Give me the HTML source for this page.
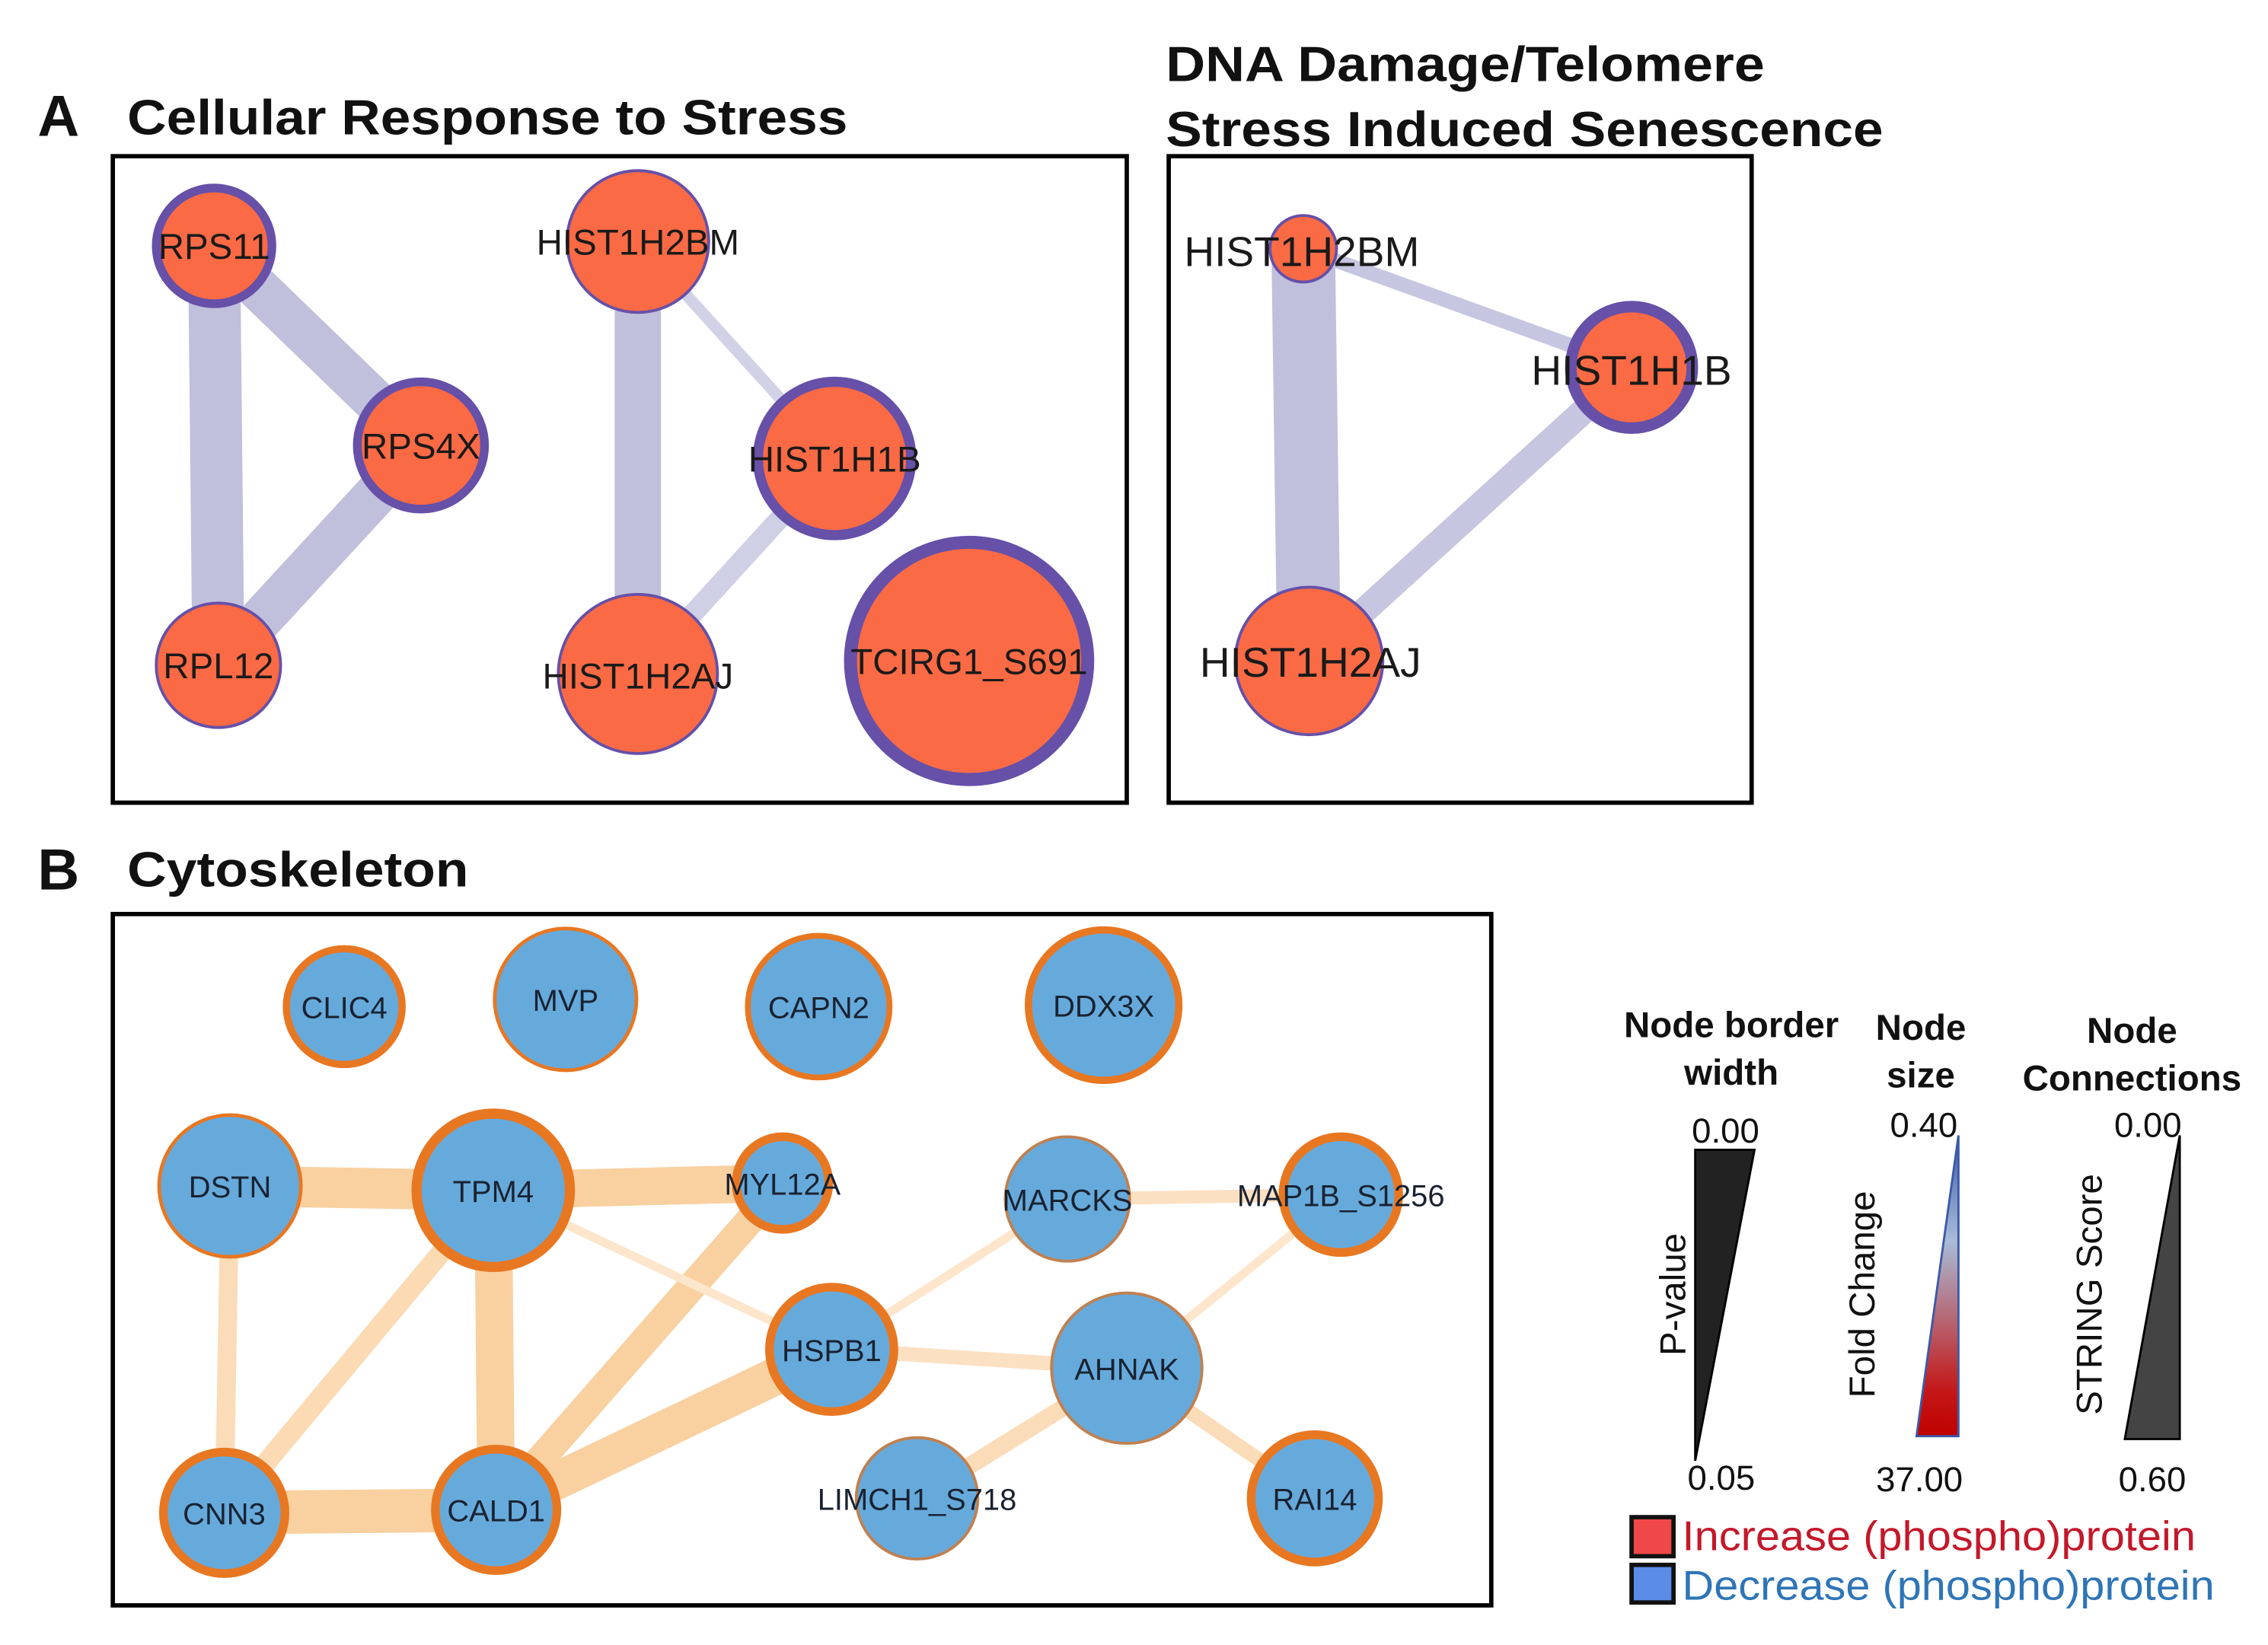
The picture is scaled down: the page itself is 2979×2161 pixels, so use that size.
<!DOCTYPE html>
<html><head><meta charset="utf-8"><style>html,body{margin:0;padding:0;background:#fff}svg{display:block}</style></head><body>
<svg width="2979" height="2161" viewBox="0 0 1568 1137.4" preserveAspectRatio="none" xmlns="http://www.w3.org/2000/svg" font-family="Liberation Sans, sans-serif">
<rect width="1568" height="1138" fill="#fff"/>
<g font-weight="bold" fill="#111">
<text x="26" y="94" font-size="40">A</text>
<text x="88" y="93" font-size="34" textLength="498" lengthAdjust="spacingAndGlyphs">Cellular Response to Stress</text>
<text x="806" y="56" font-size="34" textLength="414" lengthAdjust="spacingAndGlyphs">DNA Damage/Telomere</text>
<text x="806" y="101" font-size="34" textLength="496" lengthAdjust="spacingAndGlyphs">Stress Induced Senescence</text>
<text x="26" y="615" font-size="40">B</text>
<text x="88" y="613" font-size="34" textLength="236" lengthAdjust="spacingAndGlyphs">Cytoskeleton</text>
</g>
<rect x="78" y="108" width="701" height="447" fill="none" stroke="#000" stroke-width="3"/>
<g stroke="#c0c0dc" stroke-linecap="butt">
<line x1="148" y1="170" x2="151" y2="460" stroke-width="36"/>
<line x1="148" y1="170" x2="291" y2="308" stroke-width="30"/>
<line x1="291" y1="308" x2="151" y2="460" stroke-width="30"/>
<line x1="441" y1="167" x2="441" y2="466" stroke-width="32"/>
<line x1="441" y1="167" x2="577" y2="317" stroke-width="8" stroke="#d2d2e6"/>
<line x1="577" y1="317" x2="441" y2="466" stroke-width="14" stroke="#cfcfe6"/>
</g>
<g fill="#fa6a45" stroke="#6650a8">
<circle cx="148" cy="170" r="40" stroke-width="6"/>
<circle cx="291" cy="308" r="44" stroke-width="6"/>
<circle cx="151" cy="460" r="43" stroke-width="2"/>
<circle cx="441" cy="167" r="49" stroke-width="2"/>
<circle cx="577" cy="317" r="53" stroke-width="7"/>
<circle cx="441" cy="466" r="55" stroke-width="2"/>
<circle cx="670" cy="457" r="82" stroke-width="9"/>
</g>
<g font-size="25" fill="#1a1a1a" text-anchor="middle">
<text x="148" y="179">RPS11</text>
<text x="291" y="317">RPS4X</text>
<text x="151" y="469">RPL12</text>
<text x="441" y="176">HIST1H2BM</text>
<text x="577" y="326">HIST1H1B</text>
<text x="441" y="476">HIST1H2AJ</text>
<text x="670" y="466">TCIRG1_S691</text>
</g>
<rect x="808" y="108" width="403" height="447" fill="none" stroke="#000" stroke-width="3"/>
<g stroke="#c6c6e0">
<line x1="901" y1="172" x2="905" y2="457" stroke-width="44" stroke="#c0c0dc"/>
<line x1="901" y1="172" x2="1128" y2="254" stroke-width="10"/>
<line x1="1128" y1="254" x2="905" y2="457" stroke-width="18"/>
</g>
<g fill="#fa6a45" stroke="#6650a8">
<circle cx="901" cy="172" r="23" stroke-width="2"/>
<circle cx="1128" cy="254" r="42" stroke-width="8"/>
<circle cx="905" cy="457" r="51" stroke-width="2"/>
</g>
<g font-size="29" fill="#1a1a1a" text-anchor="middle">
<text x="900" y="184">HIST1H2BM</text>
<text x="1128" y="266">HIST1H1B</text>
<text x="906" y="468">HIST1H2AJ</text>
</g>
<rect x="78" y="632" width="953" height="478" fill="none" stroke="#000" stroke-width="3"/>
<g stroke="#f9d0a0">
<line x1="159" y1="820" x2="341" y2="823" stroke-width="28"/>
<line x1="341" y1="823" x2="541" y2="818" stroke-width="26"/>
<line x1="159" y1="820" x2="155" y2="1046" stroke-width="13" stroke="#fbdcb8"/>
<line x1="155" y1="1046" x2="341" y2="823" stroke-width="14" stroke="#fbdab4"/>
<line x1="341" y1="823" x2="343" y2="1044" stroke-width="26"/>
<line x1="155" y1="1046" x2="343" y2="1044" stroke-width="30"/>
<line x1="343" y1="1044" x2="541" y2="818" stroke-width="20"/>
<line x1="343" y1="1044" x2="575" y2="933" stroke-width="26"/>
<line x1="341" y1="823" x2="575" y2="933" stroke-width="6" stroke="#fde6cc"/>
<line x1="575" y1="933" x2="738" y2="829" stroke-width="6" stroke="#fde6cc"/>
<line x1="575" y1="933" x2="779" y2="946" stroke-width="10" stroke="#fbe0c2"/>
<line x1="738" y1="829" x2="927" y2="826" stroke-width="9" stroke="#fbe0c2"/>
<line x1="927" y1="826" x2="779" y2="946" stroke-width="6" stroke="#fde6cc"/>
<line x1="779" y1="946" x2="634" y2="1036" stroke-width="12" stroke="#fbdcb8"/>
<line x1="779" y1="946" x2="909" y2="1036" stroke-width="10" stroke="#fbdcb8"/>
</g>
<g fill="#66aadc" stroke="#e87722">
<circle cx="238" cy="696" r="40" stroke-width="5"/>
<circle cx="391" cy="691" r="49" stroke-width="2.5"/>
<circle cx="566" cy="696" r="49" stroke-width="4"/>
<circle cx="763" cy="695" r="52" stroke-width="5"/>
<circle cx="159" cy="820" r="49" stroke-width="2.5"/>
<circle cx="341" cy="823" r="53" stroke-width="7"/>
<circle cx="541" cy="818" r="32" stroke-width="6"/>
<circle cx="738" cy="829" r="43" stroke-width="2" stroke="#c08050"/>
<circle cx="927" cy="826" r="40" stroke-width="6"/>
<circle cx="575" cy="933" r="43" stroke-width="6"/>
<circle cx="779" cy="946" r="52" stroke-width="2" stroke="#c08050"/>
<circle cx="155" cy="1046" r="42" stroke-width="6"/>
<circle cx="343" cy="1044" r="42" stroke-width="6"/>
<circle cx="634" cy="1036" r="42" stroke-width="2" stroke="#c08050"/>
<circle cx="909" cy="1036" r="44" stroke-width="6"/>
</g>
<g font-size="21" fill="#1a2230" text-anchor="middle">
<text x="238" y="704">CLIC4</text>
<text x="391" y="699">MVP</text>
<text x="566" y="704">CAPN2</text>
<text x="763" y="703">DDX3X</text>
<text x="159" y="828">DSTN</text>
<text x="341" y="831">TPM4</text>
<text x="541" y="826">MYL12A</text>
<text x="738" y="837">MARCKS</text>
<text x="927" y="834">MAP1B_S1256</text>
<text x="575" y="941">HSPB1</text>
<text x="779" y="954">AHNAK</text>
<text x="155" y="1054">CNN3</text>
<text x="343" y="1052">CALD1</text>
<text x="634" y="1044">LIMCH1_S718</text>
<text x="909" y="1044">RAI14</text>
</g>
<g font-weight="bold" font-size="25" fill="#111" text-anchor="middle">
<text x="1197" y="717">Node border</text>
<text x="1197" y="750">width</text>
<text x="1328" y="719">Node</text>
<text x="1328" y="752">size</text>
<text x="1474" y="721">Node</text>
<text x="1474" y="754">Connections</text>
</g>
<defs>
<linearGradient id="fc" x1="0" y1="0" x2="0" y2="1">
<stop offset="0" stop-color="#3c5aa8"/><stop offset="0.35" stop-color="#a8bcd8"/><stop offset="0.85" stop-color="#c41818"/><stop offset="1" stop-color="#c00000"/>
</linearGradient>
</defs>
<polygon points="1172,795 1213,795 1172,1010" fill="#222" stroke="#000" stroke-width="1.5"/>
<polygon points="1354,785 1325,993 1354,993" fill="url(#fc)" stroke="#3c5aa8" stroke-width="1.5"/>
<polygon points="1507,785 1469,995 1507,995" fill="#444" stroke="#000" stroke-width="1.5"/>
<g font-size="24" fill="#111" text-anchor="middle">
<text x="1193" y="790">0.00</text>
<text x="1190" y="1030">0.05</text>
<text x="1330" y="786">0.40</text>
<text x="1327" y="1031">37.00</text>
<text x="1485" y="786">0.00</text>
<text x="1488" y="1031">0.60</text>
<text transform="translate(1165,895) rotate(-90)" font-size="25">P-value</text>
<text transform="translate(1296,895) rotate(-90)" font-size="25">Fold Change</text>
<text transform="translate(1453,895) rotate(-90)" font-size="25">STRING Score</text>
</g>
<rect x="1128" y="1049" width="29" height="27" fill="#f04848" stroke="#111" stroke-width="3"/>
<rect x="1128" y="1082" width="29" height="26" fill="#5a8ce8" stroke="#111" stroke-width="3"/>
<text x="1163" y="1072" font-size="29" fill="#c4182a" textLength="355" lengthAdjust="spacingAndGlyphs">Increase (phospho)protein</text>
<text x="1163" y="1106" font-size="29" fill="#2e75b6" textLength="368" lengthAdjust="spacingAndGlyphs">Decrease (phospho)protein</text>
</svg>
</body></html>
